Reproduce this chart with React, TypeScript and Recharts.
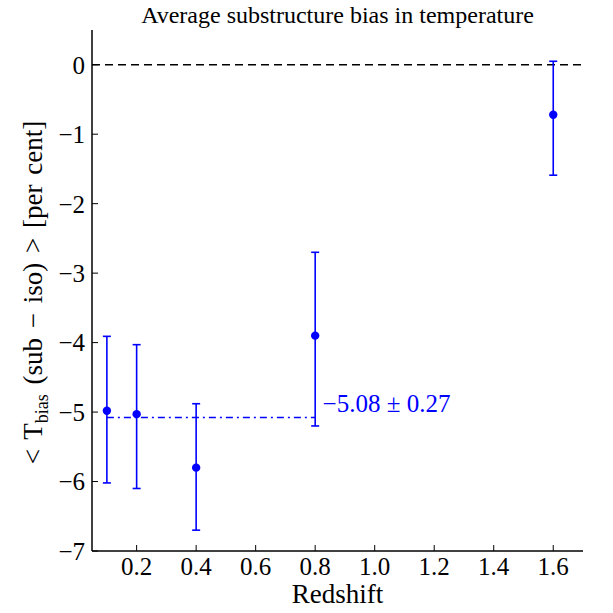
import React from 'react';
import {
  ComposedChart,
  Scatter,
  XAxis,
  YAxis,
  ErrorBar,
  ReferenceLine,
  ReferenceDot,
} from 'recharts';

const redshift = [0.1, 0.2, 0.4, 0.8, 1.6];
const bias = [-4.98, -5.03, -5.8, -3.9, -0.72];
const errLow = [1.04, 1.07, 0.9, 1.3, 0.87];
const errHigh = [1.07, 1.0, 0.92, 1.2, 0.77];

const xTicks = [0.2, 0.4, 0.6, 0.8, 1.0, 1.2, 1.4, 1.6];
const yTicks = [-7, -6, -5, -4, -3, -2, -1, 0];

const meanBias = -5.08;
const meanErr = 0.27;
const meanRange = [0.1, 0.8];
const annotationPos = { x: 0.825, y: -4.92 };

const data = redshift.map((z, i) => ({
  z,
  bias: bias[i],
  err: [errLow[i], errHigh[i]],
}));

const FONT = '"Liberation Serif", "DejaVu Serif", serif';
const BLUE = '#0000ff';

const fmtX = (v: number) => v.toFixed(1);
const fmtY = (v: number) => (v < 0 ? '\u2212' + Math.abs(v) : String(v));

const YLabel = (props: any) => {
  const vb = props.viewBox || {};
  const cx = 42;
  const cy = (vb.y ?? 30) + (vb.height ?? 521) / 2 + 2;
  return (
    <text
      x={cx}
      y={cy}
      transform={`rotate(-90, ${cx}, ${cy})`}
      textAnchor="middle"
      fontFamily={FONT}
      fontSize={27}
      fill="#000"
      style={{ wordSpacing: '3px' }}
    >
      <tspan>{'<  T'}</tspan>
      <tspan fontSize={18} dy={6}>bias</tspan>
      <tspan dy={-6}>{' (sub \u2212 iso)  >  [per cent]'}</tspan>
    </text>
  );
};

const Dot = (p: any) => <circle cx={p.cx} cy={p.cy} r={4.2} fill={BLUE} />;

const Annotation = (p: any) => (
  <text
    x={p.cx}
    y={p.cy}
    fontFamily={FONT}
    fontSize={25}
    fill={BLUE}
    dominantBaseline="middle"
  >
    {'\u2212' + Math.abs(meanBias).toFixed(2) + ' \u00b1 ' + meanErr.toFixed(2)}
  </text>
);

export default function App() {
  return (
    <div style={{ position: 'absolute', left: 0, top: 0, background: '#fff' }}>
      <ComposedChart
        width={613}
        height={613}
        data={data}
        margin={{ top: 30, right: 30, bottom: 0, left: 0 }}
      >
        <text
          x={337.5}
          y={23}
          textAnchor="middle"
          fontFamily={FONT}
          fontSize={24}
          fill="#000"
        >
          Average substructure bias in temperature
        </text>
        <XAxis
          xAxisId="b"
          dataKey="z"
          type="number"
          domain={[0.05, 1.7]}
          ticks={xTicks}
          tickFormatter={fmtX}
          allowDataOverflow
          height={62}
          tickSize={-6}
          tickMargin={12}
          axisLine={{ stroke: '#000', strokeWidth: 1.5 }}
          tickLine={{ stroke: '#000', strokeWidth: 1 }}
          tick={{ fill: '#000', fontFamily: FONT, fontSize: 25 }}
          label={{
            value: 'Redshift',
            position: 'insideBottom',
            offset: 10,
            fill: '#000',
            fontFamily: FONT,
            fontSize: 27,
          }}
        />
        <XAxis
          xAxisId="t"
          orientation="top"
          type="number"
          domain={[0.05, 1.7]}
          ticks={xTicks}
          allowDataOverflow
          height={0}
          tickSize={-6}
          tick={false}
          axisLine={{ stroke: '#000', strokeWidth: 1.5 }}
          tickLine={{ stroke: '#000', strokeWidth: 1 }}
        />
        <YAxis
          yAxisId="l"
          type="number"
          domain={[-7, 0.5]}
          ticks={yTicks}
          tickFormatter={fmtY}
          allowDataOverflow
          width={92}
          tickSize={-6}
          tickMargin={13}
          axisLine={{ stroke: '#000', strokeWidth: 1.5 }}
          tickLine={{ stroke: '#000', strokeWidth: 1 }}
          tick={{ fill: '#000', fontFamily: FONT, fontSize: 25 }}
          label={<YLabel />}
        />
        <YAxis
          yAxisId="r"
          orientation="right"
          type="number"
          domain={[-7, 0.5]}
          ticks={yTicks}
          allowDataOverflow
          width={0}
          tickSize={-6}
          tick={false}
          axisLine={{ stroke: '#000', strokeWidth: 1.5 }}
          tickLine={{ stroke: '#000', strokeWidth: 1 }}
        />
        <ReferenceLine
          xAxisId="b"
          yAxisId="l"
          y={0}
          stroke="#000"
          strokeWidth={1.3}
          strokeDasharray="8 5"
        />
        <ReferenceLine
          xAxisId="b"
          yAxisId="l"
          segment={[
            { x: meanRange[0], y: meanBias },
            { x: meanRange[1], y: meanBias },
          ]}
          stroke={BLUE}
          strokeWidth={1.5}
          strokeDasharray="7 4 2 4"
        />
        <Scatter
          xAxisId="b"
          yAxisId="l"
          dataKey="bias"
          fill={BLUE}
          shape={<Dot />}
          isAnimationActive={false}
        >
          <ErrorBar
            dataKey="err"
            direction="y"
            width={4}
            stroke={BLUE}
            strokeWidth={1.6}
            isAnimationActive={false}
          />
        </Scatter>
        <ReferenceDot
          xAxisId="b"
          yAxisId="l"
          x={annotationPos.x}
          y={annotationPos.y}
          r={0}
          shape={<Annotation />}
        />
      </ComposedChart>
    </div>
  );
}
